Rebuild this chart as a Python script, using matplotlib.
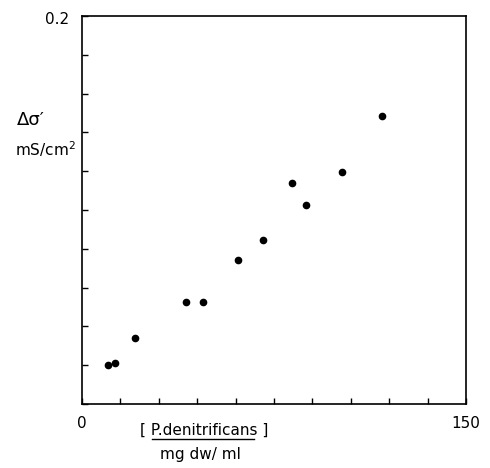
import matplotlib
matplotlib.use("Agg")
import matplotlib.pyplot as plt
from matplotlib.lines import Line2D

# Data
conc = [10.0, 12.9, 20.6, 40.7, 47.1, 60.9, 70.6, 81.9, 87.5, 101.7, 117.3]
dsigma = [0.0203, 0.0213, 0.0340, 0.0527, 0.0526, 0.0741, 0.0846, 0.1139, 0.1025, 0.1195, 0.1483]
x_tick_labels = {0: "0", 150: "150"}
y_tick_labels = {0.2: "0.2"}

W, H = 490, 468
fig = plt.figure(figsize=(W / 100, H / 100), dpi=100)
ax = fig.add_axes([82 / W, 1 - 404 / H, (466 - 82) / W, (404 - 16) / H])

ax.plot(conc, dsigma, "o", color="black", ms=4.5, mec="black")

ax.set_xlim(0, 150)
ax.set_ylim(0, 0.2)
xt = [i * 15 for i in range(11)]
yt = [i * 0.02 for i in range(11)]
ax.set_xticks(xt)
ax.set_yticks(yt)
ax.set_xticklabels([""] * len(xt))
ax.set_yticklabels([""] * len(yt))
ax.tick_params(direction="in", length=4, width=1, color="black")
for s in ax.spines.values():
    s.set_linewidth(1.2)
    s.set_color("black")

fs = 11
for v, lab in x_tick_labels.items():
    ax.text(v, -0.006, lab, ha="center", va="top", fontsize=fs)
for v, lab in y_tick_labels.items():
    ax.text(-5, v - 0.002, lab, ha="right", va="center", fontsize=fs)

# y-axis label
fig.text(17 / W, 1 - 120 / H, "\u0394\u03c3\u2032", ha="left", va="center", fontsize=13)
fig.text(15 / W, 1 - 149 / H, r"mS/cm$^2$", ha="left", va="center", fontsize=fs)

# x-axis label
fig.text(204 / W, 1 - 430 / H, "[ P.denitrificans ]", ha="center", va="center", fontsize=fs)
fig.add_artist(Line2D([152 / W, 254 / W], [1 - 439 / H, 1 - 439 / H],
                      transform=fig.transFigure, color="black", lw=1))
fig.text(200 / W, 1 - 455 / H, "mg dw/ ml", ha="center", va="center", fontsize=fs)

fig.savefig("out.png", dpi=100)
